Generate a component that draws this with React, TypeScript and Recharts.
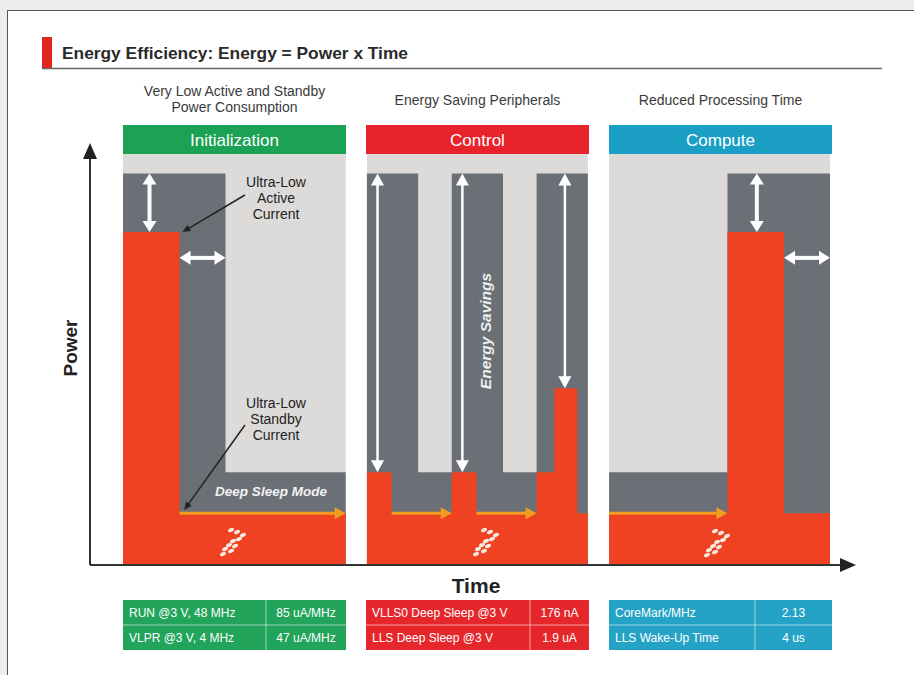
import React from 'react';
import { Area, ComposedChart, ReferenceLine, XAxis, YAxis } from 'recharts';

// Power over time for three phases. Gaps between phases are null rows so
// the step areas break; stepAfter keeps each level until the next sample.
const time = [0, 16, 29, 63, 66, 69, 76, 83.5, 93, 100, 107.5, 117, 122, 128.5, 131.5, 134, 137.5, 171, 187, 200];
const panelTop = [105, 105, 105, 105, null, 105, 105, 105, 105, 105, 105, 105, 105, 105, 105, null, 105, 105, 105, 105];
const oldPower = [100, 100, 23.5, 23.5, null, 100, 100, 23.5, 100, 100, 23.5, 100, 100, 100, 100, null, 23.5, 100, 100, 100];
const newPower = [85, 13, 13, 13, null, 23.5, 13, 13, 23.5, 13, 13, 23.5, 45, 13, 13, null, 13, 85, 13, 13];

const phases = ['Initialization', 'Control', 'Compute'];
const phaseNotes = [['Very Low Active and Standby', 'Power Consumption'], ['Energy Saving Peripherals'], ['Reduced Processing Time']];
const specLabels = [
  ['RUN @3 V, 48 MHz', 'VLPR @3 V, 4 MHz'],
  ['VLLS0 Deep Sleep @3 V', 'LLS Deep Sleep @3 V'],
  ['CoreMark/MHz', 'LLS Wake-Up Time'],
];
const specValues = [
  ['85 uA/MHz', '47 uA/MHz'],
  ['176 nA', '1.9 uA'],
  ['2.13', '4 us'],
];

// [x1, y1, x2, y2] in time / power units
const gainArrows = [[7.5, 100, 7.5, 85], [16, 78.4, 29, 78.4], [179.3, 100, 179.3, 85], [187, 78.4, 200, 78.4]];
const savingArrows = [[72, 100, 72, 23.5], [96, 100, 96, 23.5], [125, 100, 125, 45]];
const sleepArrows = [[16, 13, 63, 13], [76, 13, 93, 13], [100, 13, 117, 13], [137.5, 13, 171, 13]];
const pointerArrows = [[34.5, 94.5, 16.8, 85], [34.5, 35.6, 17.3, 13.8]];

const data = time.map((t, i) => ({ t, panel: panelTop[i], old: oldPower[i], now: newPower[i] }));

const LIGHT = '#dddbd9';
const DARK = '#6b7077';
const RED = '#ee4222';
const ORANGE = '#f39c1f';
const HEADS = ['#1ba255', '#e8232b', '#1b9fc4'];
const TABLES = ['#22a45b', '#e5272c', '#25a3c6'];
const PANEL_X = [123, 366, 609];
const PANEL_W = 223;
const COL_SPLIT = [143, 164, 146];
const NARROW = "'Liberation Sans Narrow', 'Liberation Sans', Arial, sans-serif";
const SANS = "'Liberation Sans', Arial, sans-serif";

function arrow(color: string, w: number, headL: number, headW: number, both: boolean) {
  return (p: any) => {
    const { x1, y1, x2, y2 } = p;
    const dx = x2 - x1;
    const dy = y2 - y1;
    const len = Math.hypot(dx, dy) || 1;
    const ux = dx / len;
    const uy = dy / len;
    const nx = -uy;
    const ny = ux;
    const head = (tx: number, ty: number, ax: number, ay: number) =>
      `M${tx},${ty} L${tx - ax * headL + nx * headW / 2},${ty - ay * headL + ny * headW / 2} L${tx - ax * headL - nx * headW / 2},${ty - ay * headL - ny * headW / 2} Z`;
    const sx = both ? x1 + ux * headL * 0.8 : x1;
    const sy = both ? y1 + uy * headL * 0.8 : y1;
    return (
      <g>
        <line x1={sx} y1={sy} x2={x2 - ux * headL * 0.8} y2={y2 - uy * headL * 0.8} stroke={color} strokeWidth={w} />
        <path d={head(x2, y2, ux, uy)} fill={color} />
        {both && <path d={head(x1, y1, -ux, -uy)} fill={color} />}
      </g>
    );
  };
}

const seg = (a: number[]) => [{ x: a[0], y: a[1] }, { x: a[2], y: a[3] }] as any;

function Logo({ cx, cy }: { cx: number; cy: number }) {
  const dots = [[-3, -10], [3, -8], [9, -5], [5, -1], [-1, 1], [-5, 5], [1, 6], [-9, 9], [-3, 11], [-11, 14]];
  return (
    <g>
      {dots.map(([dx, dy], i) => (
        <ellipse key={i} cx={cx + dx} cy={cy + dy} rx={3.2} ry={1.8} fill="#f6e9e0" transform={`rotate(-25 ${cx + dx} ${cy + dy})`} />
      ))}
    </g>
  );
}

export default function App() {
  return (
    <div style={{ position: 'absolute', left: 0, top: 0, width: 914, height: 675, background: '#ededed', overflow: 'hidden' }}>
      <div style={{ position: 'absolute', left: 7, top: 10, width: 920, height: 680, background: '#fff', borderLeft: '1px solid #555', borderTop: '1px solid #555' }} />
      <div style={{ position: 'absolute', left: 0, top: 0 }}>
        <ComposedChart width={914} height={675} data={data} margin={{ top: 154, right: 84, bottom: 111, left: 123 }}>
          <XAxis dataKey="t" type="number" domain={[0, 200]} hide />
          <YAxis type="number" domain={[0, 105]} hide allowDataOverflow />
          <Area dataKey="panel" type="stepAfter" stroke="none" fill={LIGHT} fillOpacity={1} isAnimationActive={false} />
          <Area dataKey="old" type="stepAfter" stroke="none" fill={DARK} fillOpacity={1} isAnimationActive={false} />
          <Area dataKey="now" type="stepAfter" stroke="none" fill={RED} fillOpacity={1} isAnimationActive={false} />
          {sleepArrows.map((a, i) => (
            <ReferenceLine key={'s' + i} segment={seg(a)} ifOverflow="visible" shape={arrow(ORANGE, 3, 11, 12, false)} />
          ))}
          {gainArrows.map((a, i) => (
            <ReferenceLine key={'g' + i} segment={seg(a)} ifOverflow="visible" shape={arrow('#fff', 4, 11, 14, true)} />
          ))}
          {savingArrows.map((a, i) => (
            <ReferenceLine key={'v' + i} segment={seg(a)} ifOverflow="visible" shape={arrow('#fff', 2.5, 12, 13, true)} />
          ))}
          {pointerArrows.map((a, i) => (
            <ReferenceLine key={'p' + i} segment={seg(a)} ifOverflow="visible" shape={arrow('#222', 1.5, 8, 7, false)} />
          ))}
        </ComposedChart>
      </div>
      <svg width={914} height={675} style={{ position: 'absolute', left: 0, top: 0, pointerEvents: 'none' }}>
        {/* title */}
        <rect x={42} y={37} width={10} height={31} fill="#e2261f" />
        <text x={62} y={59} fontFamily={SANS} fontWeight="bold" fontSize={17} fill="#2a2a2a" textLength={346} lengthAdjust="spacingAndGlyphs">Energy Efficiency: Energy = Power x Time</text>
        <line x1={42} y1={68.5} x2={882} y2={68.5} stroke="#666" strokeWidth={1.5} />

        {/* phase notes and headers */}
        {phases.map((name, i) => {
          const cx = PANEL_X[i] + PANEL_W / 2;
          const notes = phaseNotes[i];
          return (
            <g key={name}>
              {notes.map((n, j) => (
                <text key={j} x={cx} y={notes.length > 1 ? 96 + j * 16 : 105} textAnchor="middle" fontFamily={NARROW} fontSize={14} fill="#3a3a3a">{n}</text>
              ))}
              <rect x={PANEL_X[i]} y={125} width={PANEL_W} height={29} fill={HEADS[i]} />
              <text x={cx} y={145.5} textAnchor="middle" fontFamily={SANS} fontSize={17} fill="#fff">{name}</text>
            </g>
          );
        })}

        {/* axes */}
        <line x1={90} y1={565} x2={90} y2={155} stroke="#333" strokeWidth={2} />
        <path d="M90,143 L83,159 L97,159 Z" fill="#222" />
        <line x1={90} y1={565} x2={843} y2={565} stroke="#333" strokeWidth={2} />
        <path d="M856,565 L840,558 L840,572 Z" fill="#222" />
        <text x={0} y={0} transform="translate(77 348) rotate(-90)" textAnchor="middle" fontFamily={SANS} fontWeight="bold" fontSize={19} fill="#222">Power</text>
        <text x={476} y={593} textAnchor="middle" fontFamily={SANS} fontWeight="bold" fontSize={21} fill="#222">Time</text>

        {/* annotations */}
        {['Ultra-Low', 'Active', 'Current'].map((s, j) => (
          <text key={s} x={276} y={187 + j * 16} textAnchor="middle" fontFamily={NARROW} fontSize={14} fill="#222">{s}</text>
        ))}
        {['Ultra-Low', 'Standby', 'Current'].map((s, j) => (
          <text key={s} x={276} y={408 + j * 16} textAnchor="middle" fontFamily={NARROW} fontSize={14} fill="#222">{s}</text>
        ))}
        <text x={271} y={496} textAnchor="middle" fontFamily={SANS} fontStyle="italic" fontWeight="bold" fontSize={13.5} fill="#f2f2f2">Deep Sleep Mode</text>
        <text x={0} y={0} transform="translate(491 331) rotate(-90)" textAnchor="middle" fontFamily={SANS} fontStyle="italic" fontWeight="bold" fontSize={15.5} fill="#eee">Energy Savings</text>
        <Logo cx={234} cy={540} />
        <Logo cx={487} cy={540} />
        <Logo cx={718} cy={541} />

        {/* spec tables */}
        {specLabels.map((rows, i) => {
          const x0 = PANEL_X[i];
          const split = x0 + COL_SPLIT[i];
          return (
            <g key={i}>
              <rect x={x0} y={600} width={PANEL_W} height={50} fill={TABLES[i]} />
              <line x1={x0} y1={625} x2={x0 + PANEL_W} y2={625} stroke="#ffffff" strokeOpacity={0.55} strokeWidth={1} />
              <line x1={split} y1={600} x2={split} y2={650} stroke="#ffffff" strokeOpacity={0.55} strokeWidth={1} />
              {rows.map((r, j) => (
                <g key={j}>
                  <text x={x0 + 6} y={617 + j * 25} fontFamily={NARROW} fontSize={12} fill="#fff">{r}</text>
                  <text x={(split + x0 + PANEL_W) / 2} y={617 + j * 25} textAnchor="middle" fontFamily={NARROW} fontSize={12} fill="#fff">{specValues[i][j]}</text>
                </g>
              ))}
            </g>
          );
        })}
      </svg>
    </div>
  );
}
